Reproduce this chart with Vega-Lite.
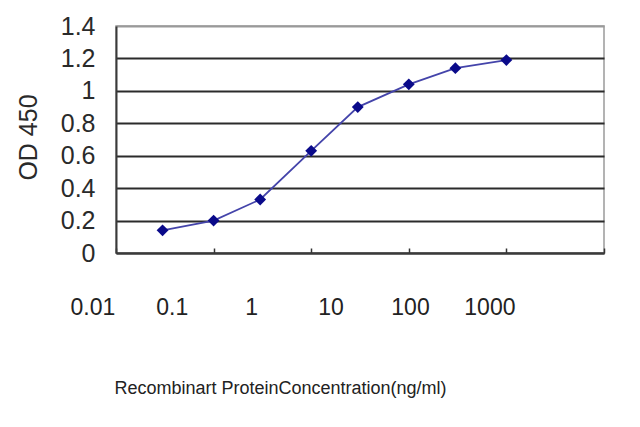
{
  "$schema": "https://vega.github.io/schema/vega-lite/v6.json",
  "width": 488,
  "height": 227,
  "autosize": "none",
  "padding": {"left": 116, "top": 26, "right": 36, "bottom": 174},
  "background": "white",
  "config": {
    "font": "Liberation Sans",
    "view": {"stroke": "#9a9a9a", "strokeWidth": 1.5}
  },
  "data": {
    "values": [
      {"conc": 0.03, "od": 0.14},
      {"conc": 0.1, "od": 0.2},
      {"conc": 0.3, "od": 0.33},
      {"conc": 1, "od": 0.63},
      {"conc": 3, "od": 0.9},
      {"conc": 10, "od": 1.04},
      {"conc": 30, "od": 1.14},
      {"conc": 100, "od": 1.19}
    ]
  },
  "layer": [
    {
      "mark": {
        "type": "line",
        "color": "#4444aa",
        "strokeWidth": 1.8,
        "point": {"shape": "diamond", "size": 140, "filled": true, "color": "#0a0a8a", "opacity": 1}
      },
      "encoding": {
        "x": {
          "field": "conc",
          "type": "quantitative",
          "scale": {"type": "log", "domain": [0.01, 1000], "nice": false},
          "axis": {
            "orient": "bottom",
            "values": [0.01, 0.1, 1, 10, 100, 1000],
            "labels": false,
            "ticks": true,
            "tickSize": -5,
            "tickColor": "#333333",
            "tickWidth": 1.5,
            "domainColor": "#3a3a3a",
            "domainWidth": 2,
            "grid": false,
            "title": "Recombinart ProteinConcentration(ng/ml)",
            "titleFontSize": 18,
            "titleFontWeight": "normal",
            "titleColor": "#222222",
            "titleX": 164,
            "titleY": 135,
            "titleAlign": "center",
            "titleBaseline": "middle"
          }
        },
        "y": {
          "field": "od",
          "type": "quantitative",
          "scale": {"domain": [0, 1.4], "nice": false, "zero": true},
          "axis": {
            "values": [0, 0.2, 0.4, 0.6, 0.8, 1, 1.2, 1.4],
            "format": "~g",
            "grid": true,
            "gridColor": {"condition": {"test": "datum.value > 1.3", "value": "#9a9a9a"}, "value": "#2b2b2b"},
            "gridWidth": 2,
            "domainColor": "#3a3a3a",
            "domainWidth": 2,
            "ticks": false,
            "labelFontSize": 25,
            "labelColor": "#2a2a2a",
            "labelPadding": 21,
            "labelBaseline": "middle",
            "title": "OD 450",
            "titleFontSize": 25,
            "titleFontWeight": "normal",
            "titleColor": "#2a2a2a",
            "titleAngle": 270,
            "titleX": -88,
            "titleY": 111,
            "titleAlign": "center",
            "titleBaseline": "middle"
          }
        }
      }
    },
    {
      "mark": {"type": "point", "opacity": 0},
      "encoding": {
        "x": {
          "field": "conc",
          "type": "quantitative",
          "scale": {"type": "log", "domain": [0.01, 1000], "range": [-23.6, 373.4], "nice": false},
          "axis": {
            "orient": "bottom",
            "values": [0.01, 0.1, 1, 10, 100, 1000],
            "format": "~g",
            "labels": true,
            "ticks": false,
            "domain": false,
            "grid": false,
            "title": null,
            "labelFontSize": 23,
            "labelColor": "#222222",
            "labelPadding": 54,
            "labelBaseline": "middle",
            "labelFlush": false,
            "labelOverlap": false,
            "labelBound": false
          }
        }
      }
    }
  ],
  "resolve": {"scale": {"x": "independent"}, "axis": {"x": "independent"}}
}
